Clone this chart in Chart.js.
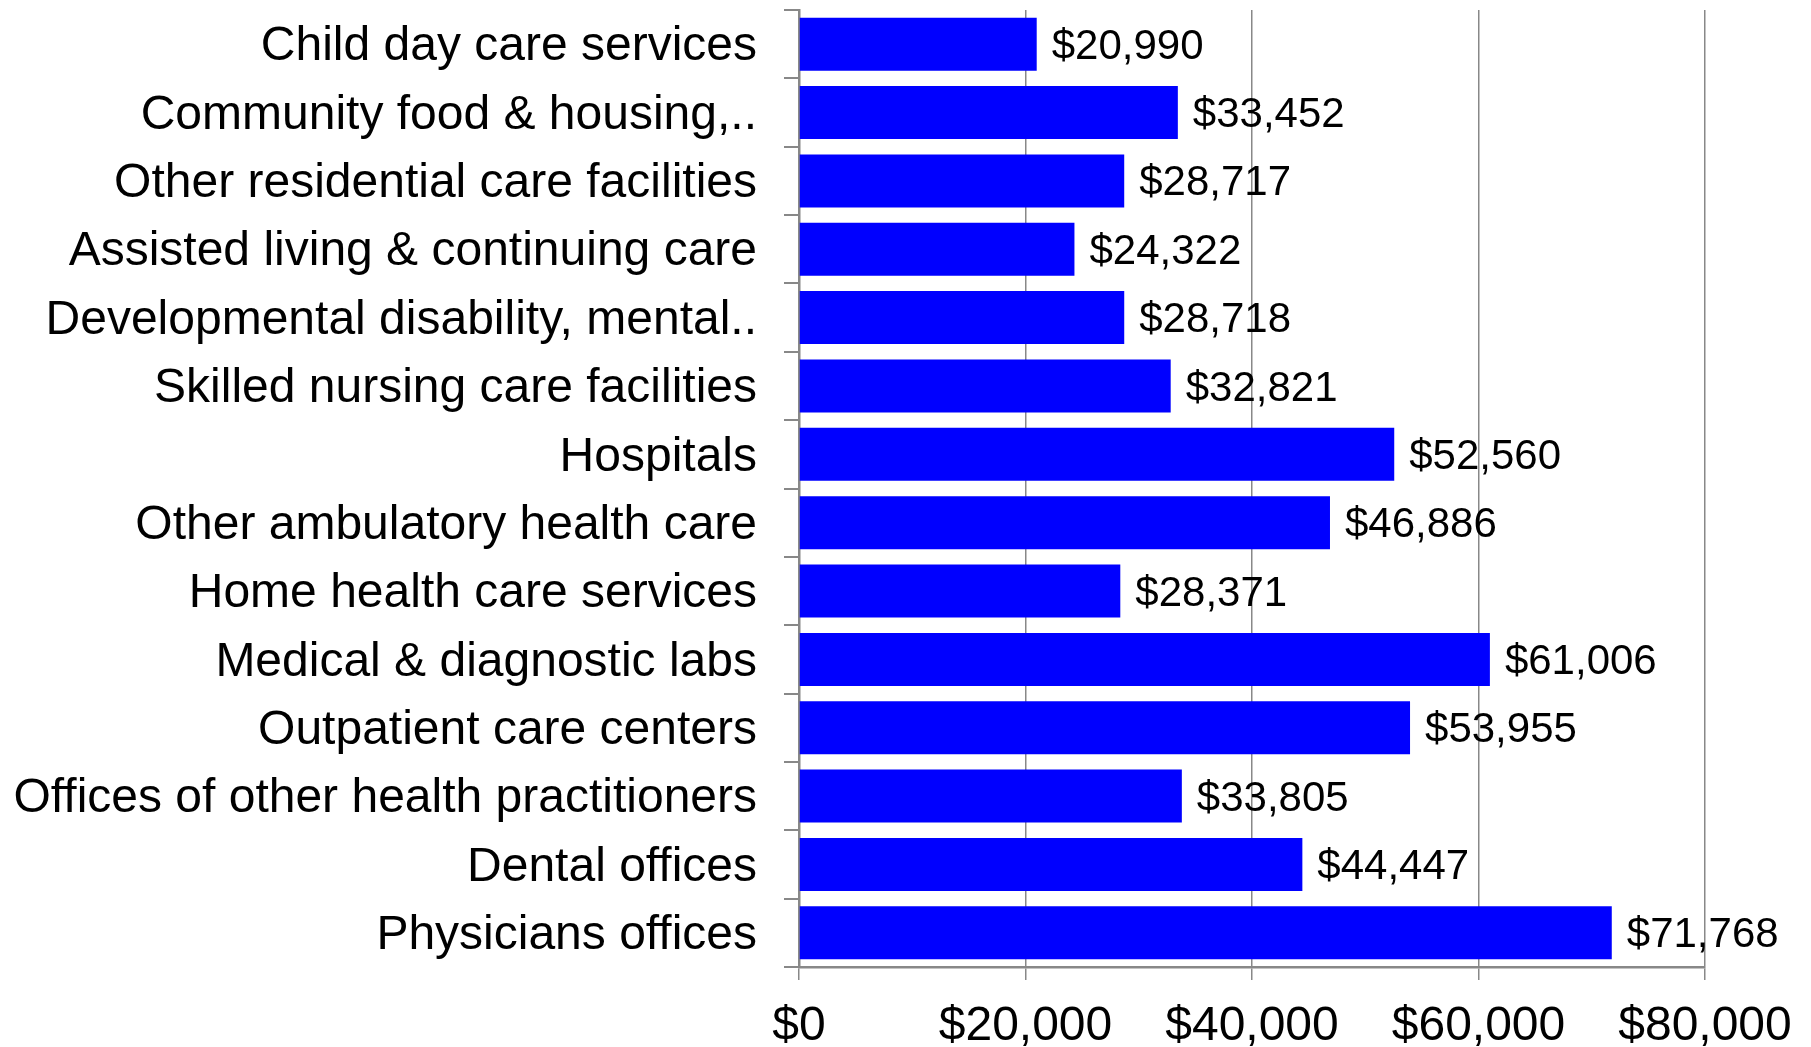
<!DOCTYPE html>
<html>
<head>
<meta charset="utf-8">
<script src="https://cdn.jsdelivr.net/npm/chart.js@4/dist/chart.umd.min.js"></script>
<style>
  html, body { margin: 0; padding: 0; background: #fff; }
  #wrap { width: 1811px; height: 1047px; position: relative; }
</style>
</head>
<body>
<div id="wrap"><canvas id="payChart"></canvas></div>
<script>
const categories = [
  "Child day care services",
  "Community food & housing,..",
  "Other residential care facilities",
  "Assisted living & continuing care",
  "Developmental disability, mental..",
  "Skilled nursing care facilities",
  "Hospitals",
  "Other ambulatory health care",
  "Home health care services",
  "Medical & diagnostic labs",
  "Outpatient care centers",
  "Offices of other health practitioners",
  "Dental offices",
  "Physicians offices"
];
const avgPay = [20990, 33452, 28717, 24322, 28718, 32821, 52560, 46886, 28371, 61006, 53955, 33805, 44447, 71768];
const xTicks = [0, 20000, 40000, 60000, 80000];

const fmtDollar = v => "$" + Number(v).toLocaleString("en-US");
const FONT = "'Liberation Sans', Arial, sans-serif";
const GREY = "#888888";

// value labels at the end of each bar
const barLabels = {
  id: "barLabels",
  afterDatasetsDraw(chart) {
    const ctx = chart.ctx;
    const meta = chart.getDatasetMeta(0);
    ctx.save();
    ctx.font = "42px " + FONT;
    ctx.fillStyle = "#000";
    ctx.textAlign = "left";
    ctx.textBaseline = "middle";
    meta.data.forEach((bar, i) => {
      ctx.fillText(fmtDollar(avgPay[i]), bar.x + 15, bar.y + 3);
    });
    ctx.restore();
  }
};

const ctx = document.getElementById("payChart").getContext("2d");
new Chart(ctx, {
  type: "bar",
  data: {
    labels: categories,
    datasets: [{
      data: avgPay,
      backgroundColor: "#0000ff",
      borderWidth: 0,
      categoryPercentage: 1,
      barPercentage: 0.775
    }]
  },
  options: {
    indexAxis: "y",
    responsive: true,
    maintainAspectRatio: false,
    animation: false,
    layout: { padding: { top: 10, right: 106, left: 0, bottom: 0 } },
    plugins: {
      legend: { display: false },
      tooltip: { enabled: false }
    },
    scales: {
      x: {
        min: 0,
        max: 80000,
        afterBuildTicks(scale) {
          scale.ticks = xTicks.map(v => ({ value: v }));
        },
        afterFit(scale) { scale.height = 80; },
        grid: { color: GREY, lineWidth: 1.5, tickLength: 13 },
        border: { color: GREY, width: 2.5 },
        ticks: {
          color: "#000",
          font: { family: FONT, size: 48 },
          padding: 18,
          maxRotation: 0,
          callback: v => fmtDollar(v)
        }
      },
      y: {
        afterFit(scale) {
          scale.width = 799;
          scale.paddingTop = 0;
          scale.paddingBottom = 0;
        },
        grid: { color: GREY, lineWidth: 2, drawOnChartArea: false, offset: true, tickLength: 15 },
        border: { color: GREY, width: 2.5 },
        ticks: {
          color: "#000",
          font: { family: FONT, size: 48 },
          padding: 27,
          labelOffset: 3,
          autoSkip: false
        }
      }
    }
  },
  plugins: [barLabels]
});
</script>
</body>
</html>
